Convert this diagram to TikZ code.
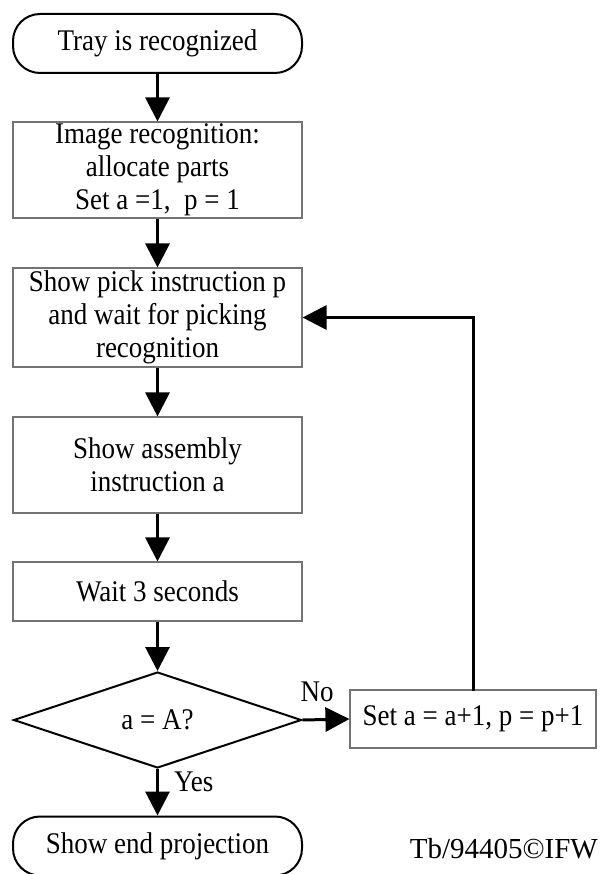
\documentclass[tikz,border=0pt]{standalone}
\usepackage{fontspec}
\setmainfont{Liberation Serif}[FakeStretch=0.9]
\newfontfamily\creditfont{Liberation Serif}
\usetikzlibrary{arrows.meta,shapes.geometric}

\tikzset{
  base/.style={font=\fontsize{30pt}{33pt}\selectfont, align=center, inner sep=0pt},
  procbox/.style={base, draw=black!55, line width=1.1pt, minimum width=289pt},
  termbox/.style={base, draw=black, line width=2pt, rounded corners=27pt,
                  minimum width=289pt, minimum height=59pt},
  decision/.style={base, draw=black, line width=2pt, diamond,
                   minimum width=288pt, minimum height=96pt},
  flow/.style={line width=3pt, -{Triangle[length=24pt,width=24pt]}},
  lbl/.style={font=\fontsize{30pt}{33pt}\selectfont, inner sep=0pt}
}

\begin{document}
\begin{tikzpicture}[x=1pt,y=-1pt]
  \useasboundingbox (0,0) rectangle (601,874);

  \node[termbox] (start) at (157.5,43.5) {Tray is recognized};
  \node[procbox, minimum height=96pt] (alloc) at (157.5,170)
        {Image recognition:\\allocate parts\\Set a =1,\ \ p = 1};
  \node[procbox, minimum height=99pt] (pick) at (157.5,317.5)
        {Show pick instruction p\\and wait for picking\\recognition};
  \node[procbox, minimum height=96pt] (assem) at (157.5,465)
        {Show assembly\\instruction a};
  \node[procbox, minimum height=59pt] (wait) at (157.5,591.5) {Wait 3 seconds};
  \node[decision] (check) at (157.5,720) {a = A?};
  \node[procbox, minimum width=246pt, minimum height=58pt] (incr) at (473,719)
        {Set a = a+1, p = p+1};
  \node[termbox] (stop) at (157.5,846) {Show end projection};

  \coordinate (up) at (incr.north |- pick.east);

  \draw[flow] (start) -- (alloc);
  \draw[flow] (alloc) -- (pick);
  \draw[flow] (pick) -- (assem);
  \draw[flow] (assem) -- (wait);
  \draw[flow] (wait) -- (check);
  \draw[flow] (check.east) -- (incr.west);
  \draw[flow] (check.south) -- (stop.north);
  \draw[flow, line cap=rect] (incr.north) -- (up) -- (pick.east);

  \node[lbl] (no) at (317,692) {No};
  \node[lbl, anchor=west] (yes) at (174,782) {Yes};
  \node[lbl, anchor=east, font=\creditfont\fontsize{29pt}{33pt}\selectfont]
        (credit) at (598,849) {Tb/94405\textcopyright IFW};
\end{tikzpicture}
\end{document}
